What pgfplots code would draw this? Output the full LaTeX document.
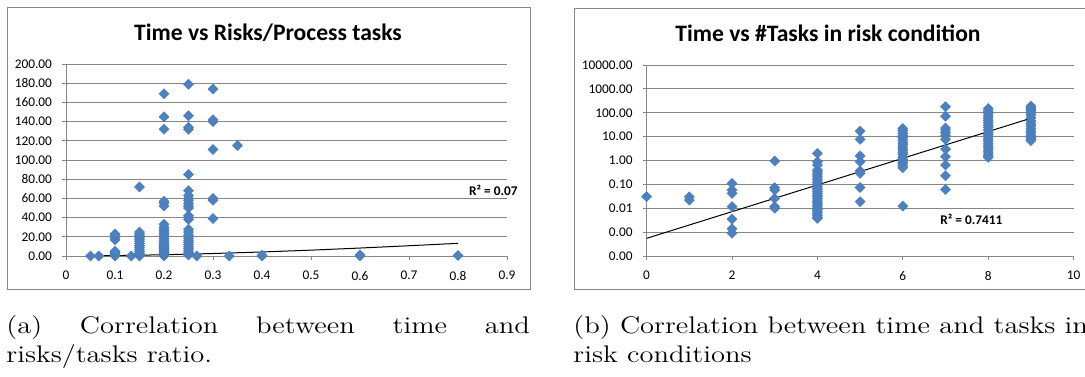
\documentclass[border=0pt]{standalone}
\usepackage{fontspec}
\usepackage{graphicx}
\usepackage{pgfplots}
\pgfplotsset{compat=1.18}
\newfontfamily\carlito{Carlito}
\definecolor{mk}{HTML}{4F81BD}
\definecolor{mkd}{HTML}{4A7EBB}
\definecolor{gl}{HTML}{868686}
\pgfplotsset{exc/.style={
  scale only axis, clip=false,
  axis lines*=left,
  axis line style={gl, line width=0.5pt},
  ymajorgrids, grid style={gl, line width=0.5pt},
  tick align=outside, major tick length=2pt,
  tick style={gl, line width=0.5pt},
  ticklabel style={font=\carlito\fontsize{6.65}{8}\selectfont, text=black},
  xticklabel style={yshift=-2pt},
  yticklabel style={xshift=-1.5pt},
},
dots/.style={only marks, mark=square*, mark size=1.75pt,
  mark options={rotate=45, fill=mk, draw=mkd, line width=0.3pt}},
trend/.style={black, line width=0.5pt, no marks}}
\newcommand{\captxt}[1]{\scalebox{1.19}[1]{\fontsize{12}{14.5}\selectfont #1}}
\begin{document}
\begin{tikzpicture}
\useasboundingbox (0,0) rectangle (542.5pt,-188pt);
\begin{scope}
\clip (0,0) rectangle (542.5pt,-188pt);
% frames
\draw[gl, line width=0.5pt] (3.5pt,-3.5pt) rectangle (265pt,-144.5pt);
\draw[gl, line width=0.5pt] (287pt,-4pt) rectangle (548.5pt,-144.5pt);
% titles
\node[font=\carlito\bfseries\fontsize{11.8}{14}\selectfont] at (134pt,-16.5pt) {Time vs Risks/Process tasks};
\node[font=\carlito\bfseries\fontsize{11.8}{14}\selectfont] at (414pt,-16.5pt) {Time vs \#Tasks in risk condition};

\begin{axis}[exc, at={(33pt,-128pt)}, anchor=south west,
  width=220.5pt, height=96pt,
  xmin=0, xmax=0.9, ymin=0, ymax=200,
  xtick={0,0.1,0.2,0.3,0.4,0.5,0.6,0.7,0.8,0.9},
  xticklabels={0,0.1,0.2,0.3,0.4,0.5,0.6,0.7,0.8,0.9},
  ytick={0,20,40,60,80,100,120,140,160,180,200},
  yticklabels={0.00,20.00,40.00,60.00,80.00,100.00,120.00,140.00,160.00,180.00,200.00},
]
\addplot[trend] coordinates {(0.05,0.1) (0.1,0.4) (0.2,1.3) (0.3,2.6) (0.4,4.2) (0.5,6.1) (0.6,8.3) (0.7,10.7) (0.8,13.2)};
\addplot[dots] coordinates {
(0.05,0) (0.0667,0)
(0.1,0) (0.1,0.5) (0.1,1) (0.1,2) (0.1,3) (0.1,4) (0.1,5) (0.1,17) (0.1,19) (0.1,22) (0.1,23)
(0.1333,0)
(0.15,0) (0.15,1) (0.15,2) (0.15,3) (0.15,5) (0.15,7) (0.15,9) (0.15,11) (0.15,13) (0.15,15) (0.15,17) (0.15,19) (0.15,21) (0.15,23) (0.15,25) (0.15,72)
(0.2,0) (0.2,1) (0.2,2) (0.2,3) (0.2,4) (0.2,5) (0.2,6) (0.2,7) (0.2,8) (0.2,9) (0.2,10) (0.2,11) (0.2,12) (0.2,14) (0.2,16) (0.2,18) (0.2,20) (0.2,22) (0.2,24) (0.2,26) (0.2,28) (0.2,30) (0.2,33) (0.2,52) (0.2,55) (0.2,57) (0.2,132) (0.2,145) (0.2,169)
(0.25,1) (0.25,2) (0.25,4) (0.25,6) (0.25,8) (0.25,10) (0.25,12) (0.25,14) (0.25,16) (0.25,18) (0.25,20) (0.25,22) (0.25,25) (0.25,28) (0.25,38) (0.25,40) (0.25,42) (0.25,50) (0.25,52) (0.25,55) (0.25,58) (0.25,60) (0.25,63) (0.25,68) (0.25,85) (0.25,132) (0.25,134) (0.25,146) (0.25,179)
(0.2667,0)
(0.3,39) (0.3,58) (0.3,60) (0.3,111) (0.3,140) (0.3,142) (0.3,174)
(0.3333,0) (0.35,115)
(0.4,0) (0.4,0.8) (0.6,0.3) (0.6,1) (0.8,0.5)
};
\end{axis}

\begin{axis}[exc, at={(323.3pt,-128pt)}, anchor=south west,
  width=213.5pt, height=95.5pt,
  xmin=0, xmax=10, ymode=log, ymin=1e-4, ymax=1e4, yminorticks=false,
  xtick={0,2,4,6,8,10}, xticklabels={0,2,4,6,8,10},
  ytick={1e-4,1e-3,1e-2,1e-1,1,10,100,1000,10000},
  yticklabels={0.00,0.00,0.01,0.10,1.00,10.00,100.00,1000.00,10000.00},
]
\addplot[trend] coordinates {(0,0.00055) (9,59)};
\addplot[dots] coordinates {
(0,0.031) (1,0.03) (1,0.022)
(2,0.11) (2,0.058) (2,0.042) (2,0.0117) (2,0.0035) (2,0.0014) (2,0.0009)
(3,0.96) (3,0.073) (3,0.058) (3,0.026) (3,0.0117) (3,0.01)
(4,2.0) (4,0.89) (4,0.65) (4,0.4) (4,0.33) (4,0.27) (4,0.22) (4,0.18) (4,0.15) (4,0.12) (4,0.1) (4,0.085) (4,0.07) (4,0.06) (4,0.05) (4,0.042) (4,0.035) (4,0.03) (4,0.025) (4,0.02) (4,0.017) (4,0.014) (4,0.012) (4,0.01) (4,0.0085) (4,0.007) (4,0.006) (4,0.005) (4,0.0042) (4,0.0038)
(5,17) (5,7.7) (5,1.58) (5,0.89) (5,0.37) (5,0.29) (5,0.074) (5,0.019)
(6,22) (6,18) (6,14) (6,11) (6,9) (6,7) (6,5.5) (6,4.5) (6,3.5) (6,2.8) (6,2.2) (6,1.8) (6,1.4) (6,1.1) (6,0.9) (6,0.75) (6,0.6) (6,0.5) (6,0.0123)
(7,180) (7,72) (7,23) (7,19) (7,15) (7,11) (7,7.7) (7,3) (7,1.44) (7,0.65) (7,0.23) (7,0.061)
(8,150) (8,120) (8,95) (8,75) (8,60) (8,48) (8,38) (8,30) (8,24) (8,19) (8,15) (8,12) (8,10) (8,8) (8,6.5) (8,5) (8,4) (8,3.2) (8,2.5) (8,2) (8,1.6) (8,1.35)
(9,190) (9,160) (9,140) (9,120) (9,100) (9,80) (9,60) (9,45) (9,35) (9,28) (9,22) (9,17) (9,14) (9,11) (9,9) (9,7.8) (9,6.8)
};
\end{axis}
% R^2 labels
\node[font=\carlito\bfseries\fontsize{6.65}{8}\selectfont, anchor=east, inner sep=0] at (259pt,-95.3pt) {R² = 0.07};
\node[font=\carlito\bfseries\fontsize{6.65}{8}\selectfont, anchor=west, inner sep=0] at (470pt,-109.5pt) {R² = 0.7411};
% captions
\node[anchor=base west, inner sep=0] at (3pt,-166.5pt) {\captxt{\makebox[220pt][s]{(a) Correlation between time and}}};
\node[anchor=base west, inner sep=0] at (3pt,-181pt) {\captxt{risks/tasks ratio.}};
\node[anchor=base west, inner sep=0] at (286.5pt,-166.5pt) {\captxt{(b) Correlation between time and tasks in}};
\node[anchor=base west, inner sep=0] at (286.5pt,-181pt) {\captxt{risk conditions}};
\end{scope}
\end{tikzpicture}
\end{document}
